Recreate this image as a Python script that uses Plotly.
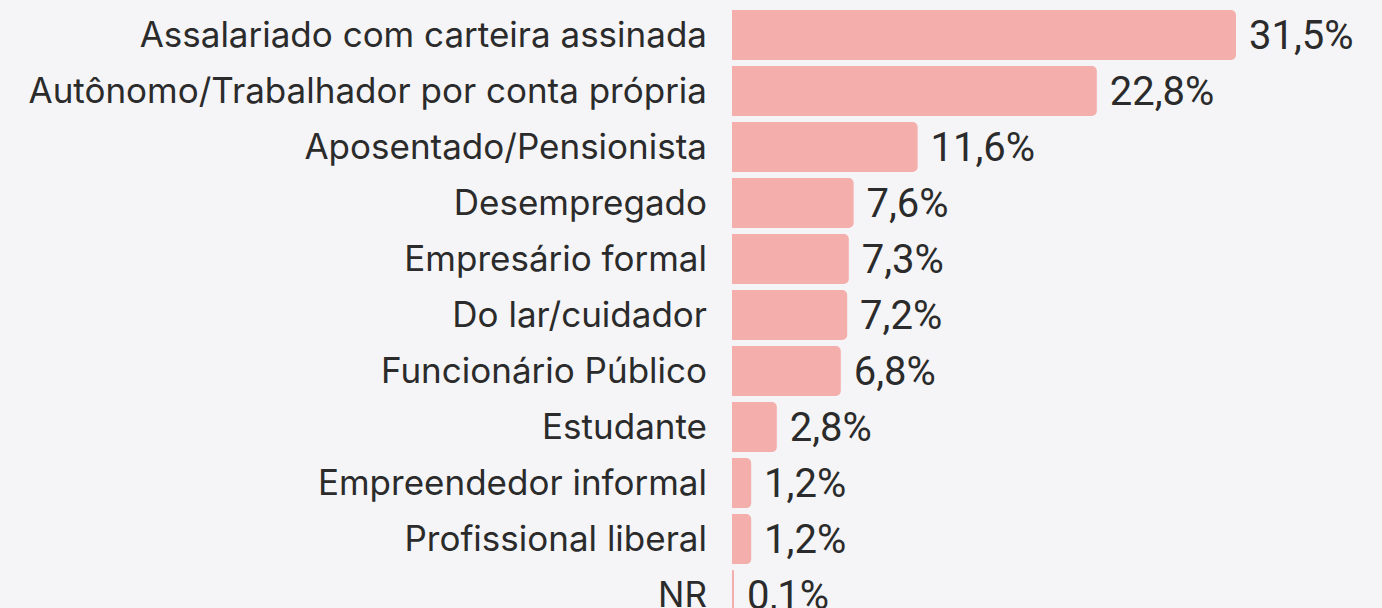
import plotly.graph_objects as go

categories = [
    "Assalariado com carteira assinada",
    "Autônomo/Trabalhador por conta própria",
    "Aposentado/Pensionista",
    "Desempregado",
    "Empresário formal",
    "Do lar/cuidador",
    "Funcionário Público",
    "Estudante",
    "Empreendedor informal",
    "Profissional liberal",
    "NR",
]
values = [31.5, 22.8, 11.6, 7.6, 7.3, 7.2, 6.8, 2.8, 1.2, 1.2, 0.1]
value_labels = [f"{v:.1f}%".replace(".", ",") for v in values]

BG = "#F5F5F7"
BAR = "#F4AEAC"
TXT = "#2B2B2B"

fig = go.Figure(
    go.Bar(
        x=values,
        y=categories,
        orientation="h",
        marker=dict(color=BAR, line=dict(width=0)),
        text=value_labels,
        texttemplate=" %{text}",
        textposition="outside",
        cliponaxis=False,
        textfont=dict(family="Roboto", size=40, color=TXT),
        hoverinfo="skip",
    )
)

fig.update_layout(
    width=1382,
    height=608,
    paper_bgcolor=BG,
    plot_bgcolor=BG,
    margin=dict(l=732, r=0, t=7, b=0),
    bargap=0.107,
    barcornerradius=5,
    showlegend=False,
    xaxis=dict(
        range=[0, 650 / 16.0],
        visible=False,
        fixedrange=True,
    ),
    yaxis=dict(
        range=[10.23, -0.5],
        showgrid=False,
        zeroline=False,
        showline=False,
        ticks="",
        tickfont=dict(family="Inter", size=35, color=TXT),
        ticklabelstandoff=24,
        automargin=False,
        fixedrange=True,
    ),
)

fig.write_html(
    "out.html",
    config={"displayModeBar": False},
    post_script="document.body.style.margin='0';document.body.style.background='#F5F5F7';document.body.style.overflow='hidden';",
)
